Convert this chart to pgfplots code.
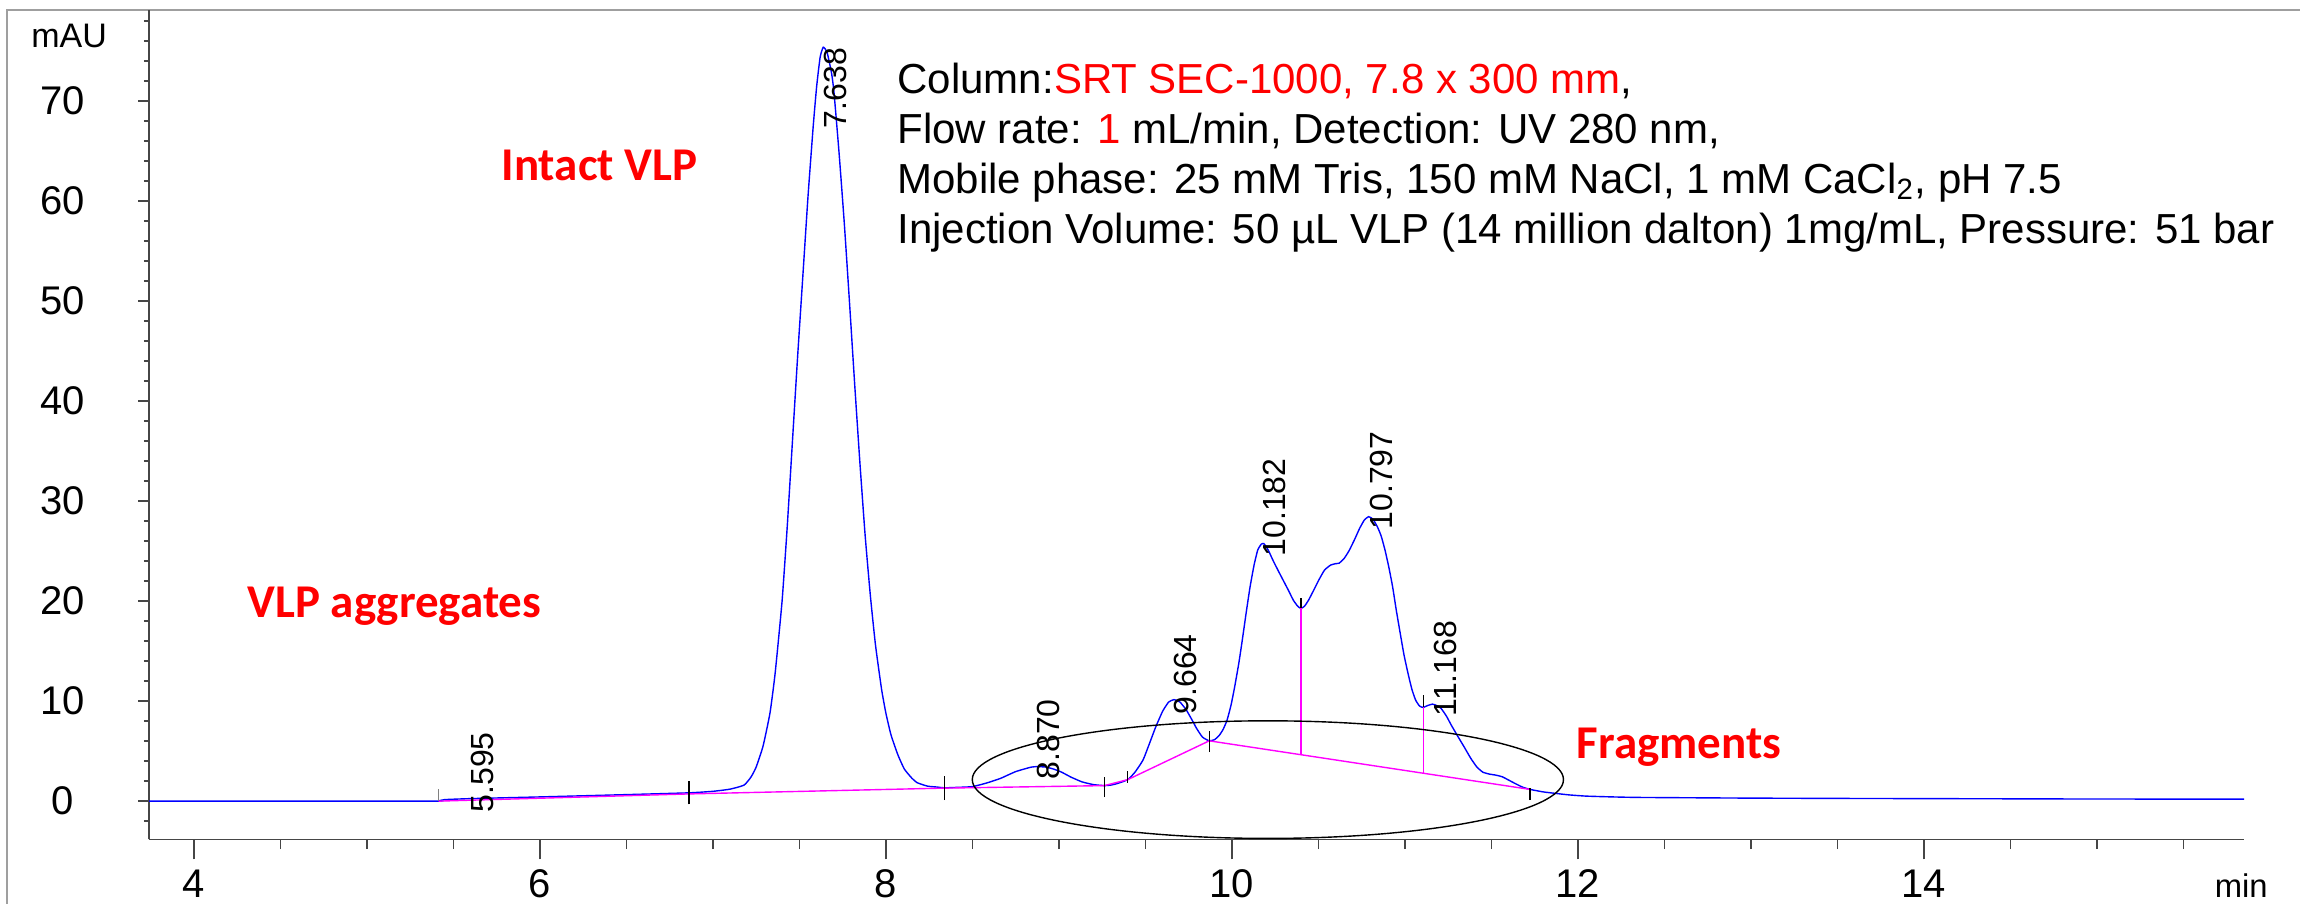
\documentclass[border=0pt]{standalone}
\usepackage{fontspec}
\setmainfont{Liberation Sans}
\newfontfamily\calibri{Carlito}
\usepackage{pgfplots}
\pgfplotsset{compat=1.18}
\definecolor{trace}{RGB}{0,0,255}
\definecolor{intbase}{RGB}{255,0,255}
\definecolor{hl}{RGB}{255,0,0}
\definecolor{spine}{RGB}{70,70,70}

\pgfplotsset{
  chromframe/.style={
    at={(0,0)}, anchor=south west,
    width=523.7pt, height=207.3pt, scale only axis,
    xmin=3.742, xmax=15.85, ymin=-3.83, ymax=79.1,
    axis lines*=left,
    axis line style={spine, line width=0.4pt},
    clip=false,
    tick align=outside,
    tick style={spine, line width=0.4pt},
    /pgf/number format/assume math mode=true,
  }
}

\begin{document}
\begin{tikzpicture}
\useasboundingbox (-37.3pt,-15.9pt) rectangle (537.7pt,209.85pt);
% outer frame of the report
\draw[gray!75, line width=0.55pt] (-35.6pt,-20pt) -- (-35.6pt,207.3pt) -- (540pt,207.3pt);
% y scale (short ticks)
\begin{axis}[chromframe,
  xtick=\empty,
  ytick={0,10,...,70}, minor ytick={-2,0,...,78},
  major tick length=2.7pt, minor tick length=1.35pt,
  yticklabel style={font=\fontsize{10}{11}\selectfont, anchor=center, xshift=-19pt},
]
\end{axis}
% time scale and data
\begin{axis}[chromframe,
  ytick=\empty,
  xtick={4,6,...,14}, minor xtick={4.5,5,...,15.5},
  major tick length=5pt, minor tick length=2.4pt,
  xticklabel style={font=\fontsize{10}{11}\selectfont, anchor=north, yshift=1pt},
]
% chromatogram trace (UV 280 nm)
\addplot[trace, line width=0.35pt, smooth, tension=0.3] coordinates {
 (3.742,0.0) (5.0,0.0) (5.40,0.0) (5.415,0.02) (5.45,0.15) (5.6,0.25) (6.0,0.42)
 (6.5,0.65) (6.863,0.83) (7.0,0.98) (7.10,1.2) (7.18,1.6) (7.22,2.4) (7.25,3.4)
 (7.29,5.5) (7.33,8.8) (7.36,12.8) (7.40,20.0) (7.43,27.5) (7.46,36.0) (7.49,44.5)
 (7.52,52.5) (7.55,60.5) (7.58,67.5) (7.60,71.5) (7.62,74.4) (7.638,75.4)
 (7.66,74.9) (7.686,72.8) (7.70,70.9) (7.73,64.7) (7.76,57.7) (7.79,49.8)
 (7.82,41.6) (7.85,33.8) (7.88,26.6) (7.91,20.6) (7.94,15.6) (7.975,11.2)
 (8.00,8.8) (8.03,6.6) (8.07,4.6) (8.107,3.2) (8.15,2.3) (8.18,1.85) (8.24,1.5)
 (8.30,1.4) (8.338,1.33) (8.42,1.38) (8.5,1.45) (8.58,1.8) (8.662,2.27) (8.75,2.95)
 (8.84,3.4) (8.88,3.45) (8.927,3.4) (8.97,3.2) (9.015,2.9) (9.07,2.4) (9.133,1.93)
 (9.20,1.65) (9.263,1.55) (9.30,1.6) (9.34,1.77) (9.398,2.15) (9.44,2.9)
 (9.486,4.1) (9.52,5.6) (9.56,7.43) (9.60,9.0) (9.634,9.9) (9.665,10.15)
 (9.70,9.9) (9.737,9.1) (9.77,8.1) (9.796,7.27) (9.83,6.4) (9.869,6.03)
 (9.90,6.15) (9.928,6.6) (9.95,7.2) (9.972,8.1) (9.995,9.6) (10.016,11.43)
 (10.04,13.8) (10.06,16.1) (10.083,18.9) (10.105,21.43) (10.128,23.6)
 (10.149,25.1) (10.17,25.7) (10.185,25.75) (10.21,25.1) (10.237,24.1)
 (10.266,23.1) (10.296,22.1) (10.326,21.1) (10.355,20.1) (10.38,19.5)
 (10.399,19.27) (10.42,19.5) (10.443,20.1) (10.47,21.0) (10.502,22.1)
 (10.535,23.1) (10.57,23.6) (10.6,23.75) (10.62,23.8) (10.65,24.3) (10.679,25.1)
 (10.71,26.2) (10.738,27.27) (10.765,28.1) (10.79,28.45) (10.815,28.2)
 (10.841,27.43) (10.863,26.5) (10.885,25.1) (10.907,23.4) (10.929,21.43)
 (10.95,19.1) (10.973,16.77) (10.995,14.6) (11.018,12.77) (11.04,11.2)
 (11.062,10.1) (11.085,9.5) (11.106,9.37) (11.13,9.55) (11.159,9.7) (11.185,9.55)
 (11.209,9.27) (11.24,8.5) (11.268,7.6) (11.305,6.5) (11.342,5.43) (11.38,4.3)
 (11.415,3.43) (11.45,2.9) (11.489,2.7) (11.525,2.6) (11.563,2.43) (11.60,2.1)
 (11.636,1.77) (11.68,1.4) (11.724,1.17) (11.80,0.92) (11.872,0.77) (11.95,0.62)
 (12.048,0.5) (12.2,0.42) (12.343,0.37) (12.7,0.33) (13.0,0.3) (13.5,0.27)
 (14.0,0.25) (14.5,0.23) (15.0,0.21) (15.85,0.2)
};
% integration baselines
\addplot[intbase, line width=0.35pt] coordinates {
 (5.415,0.0) (6.863,0.72) (8.338,1.3) (9.263,1.55) (9.398,2.15) (9.869,6.03) (11.724,1.17)
};
\addplot[intbase, line width=0.35pt] coordinates {(10.399,4.62) (10.399,19.27)};
\addplot[intbase, line width=0.35pt] coordinates {(11.106,2.78) (11.106,9.37)};
% peak start/end markers
\addplot[gray, line width=0.35pt] coordinates {(5.415,0.0) (5.415,1.2)};
\addplot[black, line width=0.35pt] coordinates {(6.863,-0.33) (6.863,2.0)};
\addplot[black, line width=0.35pt] coordinates {(8.338,0.1) (8.338,2.5)};
\addplot[black, line width=0.35pt] coordinates {(9.263,0.4) (9.263,2.4)};
\addplot[black, line width=0.35pt] coordinates {(9.398,1.85) (9.398,3.0)};
\addplot[black, line width=0.35pt] coordinates {(9.869,4.9) (9.869,7.0)};
\addplot[black, line width=0.35pt] coordinates {(10.399,19.27) (10.399,20.3)};
\addplot[black, line width=0.35pt] coordinates {(11.106,9.37) (11.106,10.6)};
\addplot[black, line width=0.35pt] coordinates {(11.724,0.1) (11.724,1.3)};
% retention times
\begin{scope}[every node/.style={rotate=90, inner sep=0pt, font=\fontsize{8}{9}\selectfont}]
\node[anchor=north east] at (axis cs:7.636,75.4) {7.638};
\node[anchor=north west] at (axis cs:5.60,-1.2) {5.595};
\node[anchor=north west] at (axis cs:8.868,2.1) {8.870};
\node[anchor=north west] at (axis cs:9.663,8.6) {9.664};
\node[anchor=north west] at (axis cs:10.178,24.4) {10.182};
\node[anchor=north west] at (axis cs:10.797,27.1) {10.797};
\node[anchor=north west] at (axis cs:11.165,8.4) {11.168};
\end{scope}
% fragment region
\draw[black, line width=0.35pt] (axis cs:10.208,2.15) ellipse [x radius=73.9pt, y radius=14.7pt];
\end{axis}
% axis units
\node[anchor=center, font=\fontsize{8.5}{9}\selectfont] at (-20pt,200.8pt) {mAU};
\node[anchor=base, font=\fontsize{8.2}{9}\selectfont] at (523pt,-14.4pt) {min};
% method conditions
\begin{scope}[every node/.style={anchor=base west, inner sep=0pt, font=\fontsize{10.5}{12}\selectfont}]
\node at (186.9pt,186.6pt) {Column:\textcolor{hl}{SRT SEC-1000, 7.8 x 300 mm},};
\node at (186.9pt,174.1pt) {Flow rate: \textcolor{hl}{1} mL/min, Detection: UV 280 nm,};
\node at (186.9pt,161.6pt) {Mobile phase: 25 mM Tris, 150 mM NaCl, 1 mM CaCl\textsubscript{2}, pH 7.5};
\node at (186.9pt,149.1pt) {Injection Volume: 50 µL VLP (14 million dalton) 1mg/mL, Pressure: 51 bar};
\end{scope}
% species labels
\begin{scope}[every node/.style={anchor=base west, inner sep=0pt, text=hl, font=\calibri\bfseries\fontsize{11.75}{14}\selectfont}]
\node at (87.9pt,164.8pt) {Intact VLP};
\node at (24.4pt,55.6pt) {VLP aggregates};
\node at (356.7pt,20.3pt) {Fragments};
\end{scope}
\end{tikzpicture}
\end{document}
